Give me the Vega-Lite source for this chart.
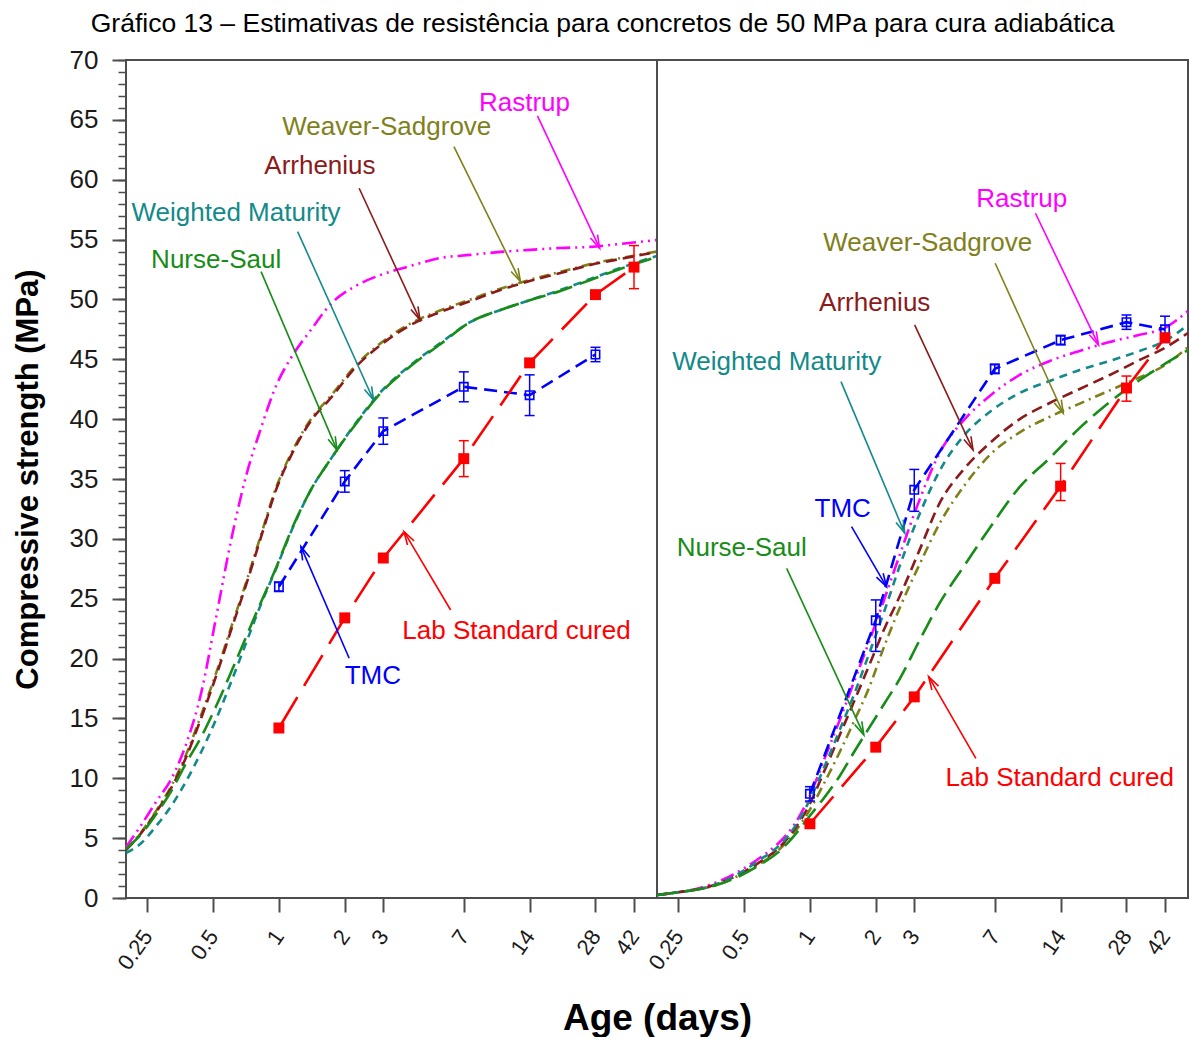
{
  "$schema": "https://vega.github.io/schema/vega-lite/v6.json",
  "background": "white",
  "padding": {"left": 11, "top": 10, "right": 0, "bottom": 0},
  "title": {
    "text": "Gráfico 13 – Estimativas de resistência para concretos de 50 MPa para cura adiabática",
    "fontSize": 26.5, "fontWeight": "normal", "color": "#000000", "anchor": "middle", "offset": 9
  },
  "spacing": 0,
  "bounds": "flush",
  "datasets": {
    "curves": [
      {"p":"L","s":"Rastrup","d":0.2,"v":4.26},{"p":"L","s":"Rastrup","d":0.2349,"v":6.1},{"p":"L","s":"Rastrup","d":0.275,"v":8.05},{"p":"L","s":"Rastrup","d":0.322,"v":9.94},{"p":"L","s":"Rastrup","d":0.3769,"v":12.87},{"p":"L","s":"Rastrup","d":0.4413,"v":17.13},{"p":"L","s":"Rastrup","d":0.5167,"v":23.48},{"p":"L","s":"Rastrup","d":0.6049,"v":29.91},{"p":"L","s":"Rastrup","d":0.7078,"v":35.25},{"p":"L","s":"Rastrup","d":0.8288,"v":39.27},{"p":"L","s":"Rastrup","d":0.97,"v":42.77},{"p":"L","s":"Rastrup","d":1.135,"v":45.11},{"p":"L","s":"Rastrup","d":1.4,"v":47.45},{"p":"L","s":"Rastrup","d":1.728,"v":49.62},{"p":"L","s":"Rastrup","d":2.247,"v":51.13},{"p":"L","s":"Rastrup","d":2.922,"v":52.05},{"p":"L","s":"Rastrup","d":4.003,"v":52.8},{"p":"L","s":"Rastrup","d":5.486,"v":53.47},{"p":"L","s":"Rastrup","d":7.519,"v":53.72},{"p":"L","s":"Rastrup","d":10.3,"v":53.97},{"p":"L","s":"Rastrup","d":14.12,"v":54.14},{"p":"L","s":"Rastrup","d":19.35,"v":54.3},{"p":"L","s":"Rastrup","d":26.52,"v":54.39},{"p":"L","s":"Rastrup","d":36.33,"v":54.64},{"p":"L","s":"Rastrup","d":53.5,"v":54.97},
      {"p":"L","s":"Weaver-Sadgrove","d":0.2,"v":4.05},{"p":"L","s":"Weaver-Sadgrove","d":0.2349,"v":5.5},{"p":"L","s":"Weaver-Sadgrove","d":0.275,"v":7.3},{"p":"L","s":"Weaver-Sadgrove","d":0.322,"v":9.35},{"p":"L","s":"Weaver-Sadgrove","d":0.3769,"v":12.0},{"p":"L","s":"Weaver-Sadgrove","d":0.4413,"v":15.3},{"p":"L","s":"Weaver-Sadgrove","d":0.5167,"v":18.8},{"p":"L","s":"Weaver-Sadgrove","d":0.6049,"v":22.6},{"p":"L","s":"Weaver-Sadgrove","d":0.7078,"v":26.35},{"p":"L","s":"Weaver-Sadgrove","d":0.8288,"v":30.35},{"p":"L","s":"Weaver-Sadgrove","d":0.97,"v":34.25},{"p":"L","s":"Weaver-Sadgrove","d":1.135,"v":37.1},{"p":"L","s":"Weaver-Sadgrove","d":1.4,"v":40.0},{"p":"L","s":"Weaver-Sadgrove","d":1.728,"v":41.95},{"p":"L","s":"Weaver-Sadgrove","d":2.247,"v":44.5},{"p":"L","s":"Weaver-Sadgrove","d":2.922,"v":46.35},{"p":"L","s":"Weaver-Sadgrove","d":4.003,"v":48.0},{"p":"L","s":"Weaver-Sadgrove","d":5.486,"v":49.1},{"p":"L","s":"Weaver-Sadgrove","d":7.519,"v":50.0},{"p":"L","s":"Weaver-Sadgrove","d":10.3,"v":50.9},{"p":"L","s":"Weaver-Sadgrove","d":14.12,"v":51.65},{"p":"L","s":"Weaver-Sadgrove","d":19.35,"v":52.3},{"p":"L","s":"Weaver-Sadgrove","d":26.52,"v":52.95},{"p":"L","s":"Weaver-Sadgrove","d":36.33,"v":53.45},{"p":"L","s":"Weaver-Sadgrove","d":53.5,"v":54.0},
      {"p":"L","s":"Arrhenius","d":0.2,"v":4.01},{"p":"L","s":"Arrhenius","d":0.2349,"v":5.43},{"p":"L","s":"Arrhenius","d":0.275,"v":7.18},{"p":"L","s":"Arrhenius","d":0.322,"v":9.19},{"p":"L","s":"Arrhenius","d":0.3769,"v":11.78},{"p":"L","s":"Arrhenius","d":0.4413,"v":15.04},{"p":"L","s":"Arrhenius","d":0.5167,"v":18.55},{"p":"L","s":"Arrhenius","d":0.6049,"v":22.39},{"p":"L","s":"Arrhenius","d":0.7078,"v":26.15},{"p":"L","s":"Arrhenius","d":0.8288,"v":30.16},{"p":"L","s":"Arrhenius","d":0.97,"v":34.09},{"p":"L","s":"Arrhenius","d":1.135,"v":36.93},{"p":"L","s":"Arrhenius","d":1.4,"v":39.85},{"p":"L","s":"Arrhenius","d":1.728,"v":41.77},{"p":"L","s":"Arrhenius","d":2.247,"v":44.36},{"p":"L","s":"Arrhenius","d":2.922,"v":46.2},{"p":"L","s":"Arrhenius","d":4.003,"v":47.87},{"p":"L","s":"Arrhenius","d":5.486,"v":48.96},{"p":"L","s":"Arrhenius","d":7.519,"v":49.87},{"p":"L","s":"Arrhenius","d":10.3,"v":50.79},{"p":"L","s":"Arrhenius","d":14.12,"v":51.55},{"p":"L","s":"Arrhenius","d":19.35,"v":52.21},{"p":"L","s":"Arrhenius","d":26.52,"v":52.88},{"p":"L","s":"Arrhenius","d":36.33,"v":53.38},{"p":"L","s":"Arrhenius","d":53.5,"v":53.97},
      {"p":"L","s":"Weighted Maturity","d":0.2,"v":3.76},{"p":"L","s":"Weighted Maturity","d":0.2349,"v":4.59},{"p":"L","s":"Weighted Maturity","d":0.275,"v":6.02},{"p":"L","s":"Weighted Maturity","d":0.322,"v":7.69},{"p":"L","s":"Weighted Maturity","d":0.3769,"v":9.77},{"p":"L","s":"Weighted Maturity","d":0.4413,"v":12.2},{"p":"L","s":"Weighted Maturity","d":0.5167,"v":14.95},{"p":"L","s":"Weighted Maturity","d":0.6049,"v":18.05},{"p":"L","s":"Weighted Maturity","d":0.7078,"v":21.3},{"p":"L","s":"Weighted Maturity","d":0.8288,"v":24.56},{"p":"L","s":"Weighted Maturity","d":0.97,"v":27.49},{"p":"L","s":"Weighted Maturity","d":1.135,"v":30.58},{"p":"L","s":"Weighted Maturity","d":1.4,"v":34.09},{"p":"L","s":"Weighted Maturity","d":1.728,"v":36.68},{"p":"L","s":"Weighted Maturity","d":2.247,"v":39.68},{"p":"L","s":"Weighted Maturity","d":2.922,"v":42.27},{"p":"L","s":"Weighted Maturity","d":4.003,"v":44.53},{"p":"L","s":"Weighted Maturity","d":5.486,"v":46.37},{"p":"L","s":"Weighted Maturity","d":7.519,"v":48.12},{"p":"L","s":"Weighted Maturity","d":10.3,"v":49.12},{"p":"L","s":"Weighted Maturity","d":14.12,"v":49.96},{"p":"L","s":"Weighted Maturity","d":19.35,"v":50.79},{"p":"L","s":"Weighted Maturity","d":26.52,"v":51.71},{"p":"L","s":"Weighted Maturity","d":36.33,"v":52.63},{"p":"L","s":"Weighted Maturity","d":53.5,"v":53.63},
      {"p":"L","s":"Nurse-Saul","d":0.2,"v":4.09},{"p":"L","s":"Nurse-Saul","d":0.2349,"v":5.35},{"p":"L","s":"Nurse-Saul","d":0.275,"v":7.02},{"p":"L","s":"Nurse-Saul","d":0.322,"v":8.94},{"p":"L","s":"Nurse-Saul","d":0.3769,"v":11.28},{"p":"L","s":"Nurse-Saul","d":0.4413,"v":13.45},{"p":"L","s":"Nurse-Saul","d":0.5167,"v":16.04},{"p":"L","s":"Nurse-Saul","d":0.6049,"v":18.88},{"p":"L","s":"Nurse-Saul","d":0.7078,"v":21.8},{"p":"L","s":"Nurse-Saul","d":0.8288,"v":24.73},{"p":"L","s":"Nurse-Saul","d":0.97,"v":27.57},{"p":"L","s":"Nurse-Saul","d":1.135,"v":30.66},{"p":"L","s":"Nurse-Saul","d":1.4,"v":34.09},{"p":"L","s":"Nurse-Saul","d":1.728,"v":36.68},{"p":"L","s":"Nurse-Saul","d":2.247,"v":39.6},{"p":"L","s":"Nurse-Saul","d":2.922,"v":42.19},{"p":"L","s":"Nurse-Saul","d":4.003,"v":44.44},{"p":"L","s":"Nurse-Saul","d":5.486,"v":46.28},{"p":"L","s":"Nurse-Saul","d":7.519,"v":48.12},{"p":"L","s":"Nurse-Saul","d":10.3,"v":49.12},{"p":"L","s":"Nurse-Saul","d":14.12,"v":49.96},{"p":"L","s":"Nurse-Saul","d":19.35,"v":50.71},{"p":"L","s":"Nurse-Saul","d":26.52,"v":51.63},{"p":"L","s":"Nurse-Saul","d":36.33,"v":52.55},{"p":"L","s":"Nurse-Saul","d":53.5,"v":53.55},
      {"p":"R","s":"Rastrup","d":0.2,"v":0.25},{"p":"R","s":"Rastrup","d":0.2542,"v":0.5},{"p":"R","s":"Rastrup","d":0.3136,"v":0.84},{"p":"R","s":"Rastrup","d":0.3871,"v":1.42},{"p":"R","s":"Rastrup","d":0.4776,"v":2.26},{"p":"R","s":"Rastrup","d":0.5892,"v":3.34},{"p":"R","s":"Rastrup","d":0.7277,"v":4.68},{"p":"R","s":"Rastrup","d":0.8521,"v":6.18},{"p":"R","s":"Rastrup","d":0.9979,"v":8.52},{"p":"R","s":"Rastrup","d":1.169,"v":11.7},{"p":"R","s":"Rastrup","d":1.369,"v":14.87},{"p":"R","s":"Rastrup","d":1.602,"v":18.21},{"p":"R","s":"Rastrup","d":1.877,"v":21.55},{"p":"R","s":"Rastrup","d":2.198,"v":25.06},{"p":"R","s":"Rastrup","d":2.574,"v":28.66},{"p":"R","s":"Rastrup","d":3.177,"v":33.3},{"p":"R","s":"Rastrup","d":3.922,"v":37.2},{"p":"R","s":"Rastrup","d":5.103,"v":40.0},{"p":"R","s":"Rastrup","d":6.639,"v":41.94},{"p":"R","s":"Rastrup","d":9.104,"v":43.69},{"p":"R","s":"Rastrup","d":12.49,"v":44.86},{"p":"R","s":"Rastrup","d":17.12,"v":45.7},{"p":"R","s":"Rastrup","d":23.48,"v":46.45},{"p":"R","s":"Rastrup","d":32.2,"v":47.04},{"p":"R","s":"Rastrup","d":41.9,"v":47.62},{"p":"R","s":"Rastrup","d":53.5,"v":49.04},
      {"p":"R","s":"Weaver-Sadgrove","d":0.2,"v":0.25},{"p":"R","s":"Weaver-Sadgrove","d":0.2542,"v":0.5},{"p":"R","s":"Weaver-Sadgrove","d":0.3136,"v":0.75},{"p":"R","s":"Weaver-Sadgrove","d":0.3871,"v":1.17},{"p":"R","s":"Weaver-Sadgrove","d":0.4776,"v":1.92},{"p":"R","s":"Weaver-Sadgrove","d":0.5892,"v":2.84},{"p":"R","s":"Weaver-Sadgrove","d":0.7277,"v":4.09},{"p":"R","s":"Weaver-Sadgrove","d":0.8521,"v":5.51},{"p":"R","s":"Weaver-Sadgrove","d":0.9979,"v":7.35},{"p":"R","s":"Weaver-Sadgrove","d":1.169,"v":9.69},{"p":"R","s":"Weaver-Sadgrove","d":1.369,"v":12.2},{"p":"R","s":"Weaver-Sadgrove","d":1.602,"v":14.87},{"p":"R","s":"Weaver-Sadgrove","d":1.877,"v":17.71},{"p":"R","s":"Weaver-Sadgrove","d":2.198,"v":21.14},{"p":"R","s":"Weaver-Sadgrove","d":2.574,"v":24.23},{"p":"R","s":"Weaver-Sadgrove","d":3.177,"v":27.9},{"p":"R","s":"Weaver-Sadgrove","d":3.922,"v":31.3},{"p":"R","s":"Weaver-Sadgrove","d":5.103,"v":34.5},{"p":"R","s":"Weaver-Sadgrove","d":6.639,"v":37.0},{"p":"R","s":"Weaver-Sadgrove","d":9.104,"v":38.9},{"p":"R","s":"Weaver-Sadgrove","d":12.49,"v":40.2},{"p":"R","s":"Weaver-Sadgrove","d":17.12,"v":41.3},{"p":"R","s":"Weaver-Sadgrove","d":23.48,"v":42.4},{"p":"R","s":"Weaver-Sadgrove","d":32.2,"v":43.5},{"p":"R","s":"Weaver-Sadgrove","d":41.9,"v":44.5},{"p":"R","s":"Weaver-Sadgrove","d":53.5,"v":46.03},
      {"p":"R","s":"Arrhenius","d":0.2,"v":0.25},{"p":"R","s":"Arrhenius","d":0.2542,"v":0.5},{"p":"R","s":"Arrhenius","d":0.3136,"v":0.75},{"p":"R","s":"Arrhenius","d":0.3871,"v":1.25},{"p":"R","s":"Arrhenius","d":0.4776,"v":2.0},{"p":"R","s":"Arrhenius","d":0.5892,"v":3.0},{"p":"R","s":"Arrhenius","d":0.7277,"v":4.26},{"p":"R","s":"Arrhenius","d":0.8521,"v":5.76},{"p":"R","s":"Arrhenius","d":0.9979,"v":7.85},{"p":"R","s":"Arrhenius","d":1.169,"v":10.69},{"p":"R","s":"Arrhenius","d":1.369,"v":13.62},{"p":"R","s":"Arrhenius","d":1.602,"v":16.54},{"p":"R","s":"Arrhenius","d":1.877,"v":19.55},{"p":"R","s":"Arrhenius","d":2.198,"v":22.56},{"p":"R","s":"Arrhenius","d":2.574,"v":25.2},{"p":"R","s":"Arrhenius","d":3.177,"v":29.1},{"p":"R","s":"Arrhenius","d":3.922,"v":33.0},{"p":"R","s":"Arrhenius","d":5.103,"v":35.9},{"p":"R","s":"Arrhenius","d":6.639,"v":38.0},{"p":"R","s":"Arrhenius","d":9.104,"v":40.0},{"p":"R","s":"Arrhenius","d":12.49,"v":41.35},{"p":"R","s":"Arrhenius","d":17.12,"v":42.52},{"p":"R","s":"Arrhenius","d":23.48,"v":43.69},{"p":"R","s":"Arrhenius","d":32.2,"v":44.95},{"p":"R","s":"Arrhenius","d":41.9,"v":45.95},{"p":"R","s":"Arrhenius","d":53.5,"v":47.2},
      {"p":"R","s":"Weighted Maturity","d":0.2,"v":0.25},{"p":"R","s":"Weighted Maturity","d":0.2542,"v":0.5},{"p":"R","s":"Weighted Maturity","d":0.3136,"v":0.75},{"p":"R","s":"Weighted Maturity","d":0.3871,"v":1.25},{"p":"R","s":"Weighted Maturity","d":0.4776,"v":2.09},{"p":"R","s":"Weighted Maturity","d":0.5892,"v":3.17},{"p":"R","s":"Weighted Maturity","d":0.7277,"v":4.43},{"p":"R","s":"Weighted Maturity","d":0.8521,"v":5.93},{"p":"R","s":"Weighted Maturity","d":0.9979,"v":8.19},{"p":"R","s":"Weighted Maturity","d":1.169,"v":11.03},{"p":"R","s":"Weighted Maturity","d":1.369,"v":14.04},{"p":"R","s":"Weighted Maturity","d":1.602,"v":17.13},{"p":"R","s":"Weighted Maturity","d":1.877,"v":20.55},{"p":"R","s":"Weighted Maturity","d":2.198,"v":24.06},{"p":"R","s":"Weighted Maturity","d":2.574,"v":27.74},{"p":"R","s":"Weighted Maturity","d":3.177,"v":32.1},{"p":"R","s":"Weighted Maturity","d":3.922,"v":35.7},{"p":"R","s":"Weighted Maturity","d":5.103,"v":38.7},{"p":"R","s":"Weighted Maturity","d":6.639,"v":40.6},{"p":"R","s":"Weighted Maturity","d":9.104,"v":42.19},{"p":"R","s":"Weighted Maturity","d":12.49,"v":43.19},{"p":"R","s":"Weighted Maturity","d":17.12,"v":44.11},{"p":"R","s":"Weighted Maturity","d":23.48,"v":44.86},{"p":"R","s":"Weighted Maturity","d":32.2,"v":45.7},{"p":"R","s":"Weighted Maturity","d":41.9,"v":46.53},{"p":"R","s":"Weighted Maturity","d":53.5,"v":47.87},
      {"p":"R","s":"Nurse-Saul","d":0.2,"v":0.25},{"p":"R","s":"Nurse-Saul","d":0.2542,"v":0.5},{"p":"R","s":"Nurse-Saul","d":0.3136,"v":0.75},{"p":"R","s":"Nurse-Saul","d":0.3871,"v":1.17},{"p":"R","s":"Nurse-Saul","d":0.4776,"v":1.84},{"p":"R","s":"Nurse-Saul","d":0.5892,"v":2.76},{"p":"R","s":"Nurse-Saul","d":0.7277,"v":3.93},{"p":"R","s":"Nurse-Saul","d":0.8521,"v":5.26},{"p":"R","s":"Nurse-Saul","d":0.9979,"v":6.85},{"p":"R","s":"Nurse-Saul","d":1.169,"v":8.44},{"p":"R","s":"Nurse-Saul","d":1.369,"v":10.19},{"p":"R","s":"Nurse-Saul","d":1.602,"v":12.28},{"p":"R","s":"Nurse-Saul","d":1.877,"v":14.29},{"p":"R","s":"Nurse-Saul","d":2.198,"v":16.29},{"p":"R","s":"Nurse-Saul","d":2.574,"v":18.3},{"p":"R","s":"Nurse-Saul","d":3.177,"v":21.55},{"p":"R","s":"Nurse-Saul","d":3.922,"v":24.65},{"p":"R","s":"Nurse-Saul","d":5.103,"v":27.82},{"p":"R","s":"Nurse-Saul","d":6.639,"v":30.91},{"p":"R","s":"Nurse-Saul","d":9.104,"v":34.34},{"p":"R","s":"Nurse-Saul","d":12.49,"v":36.76},{"p":"R","s":"Nurse-Saul","d":17.12,"v":39.27},{"p":"R","s":"Nurse-Saul","d":23.48,"v":41.44},{"p":"R","s":"Nurse-Saul","d":32.2,"v":43.27},{"p":"R","s":"Nurse-Saul","d":41.9,"v":44.61},{"p":"R","s":"Nurse-Saul","d":53.5,"v":45.78}
    ],
    "tests": [
      {"p":"L","s":"TMC","d":1,"v":26.0,"lo":25.6,"hi":26.4},
      {"p":"L","s":"TMC","d":2,"v":34.8,"lo":33.9,"hi":35.7},
      {"p":"L","s":"TMC","d":3,"v":39.0,"lo":37.9,"hi":40.1},
      {"p":"L","s":"TMC","d":7,"v":42.7,"lo":41.45,"hi":43.95},
      {"p":"L","s":"TMC","d":14,"v":42.0,"lo":40.3,"hi":43.7},
      {"p":"L","s":"TMC","d":28,"v":45.4,"lo":44.8,"hi":46.0},
      {"p":"L","s":"Lab Standard cured","d":1,"v":14.2},
      {"p":"L","s":"Lab Standard cured","d":2,"v":23.4},
      {"p":"L","s":"Lab Standard cured","d":3,"v":28.4},
      {"p":"L","s":"Lab Standard cured","d":7,"v":36.7,"lo":35.2,"hi":38.2},
      {"p":"L","s":"Lab Standard cured","d":14,"v":44.7},
      {"p":"L","s":"Lab Standard cured","d":28,"v":50.4},
      {"p":"L","s":"Lab Standard cured","d":42,"v":52.7,"lo":50.9,"hi":54.5},
      {"p":"R","s":"TMC","d":1,"v":8.7,"lo":8.1,"hi":9.3},
      {"p":"R","s":"TMC","d":2,"v":23.2,"lo":20.6,"hi":24.9},
      {"p":"R","s":"TMC","d":3,"v":34.1,"lo":32.3,"hi":35.8},
      {"p":"R","s":"TMC","d":7,"v":44.2,"lo":43.8,"hi":44.6},
      {"p":"R","s":"TMC","d":14,"v":46.6,"lo":46.2,"hi":47.0},
      {"p":"R","s":"TMC","d":28,"v":48.1,"lo":47.5,"hi":48.7},
      {"p":"R","s":"TMC","d":42,"v":47.5,"lo":46.4,"hi":48.6},
      {"p":"R","s":"Lab Standard cured","d":1,"v":6.2},
      {"p":"R","s":"Lab Standard cured","d":2,"v":12.6},
      {"p":"R","s":"Lab Standard cured","d":3,"v":16.8},
      {"p":"R","s":"Lab Standard cured","d":7,"v":26.7},
      {"p":"R","s":"Lab Standard cured","d":14,"v":34.4,"lo":33.2,"hi":36.3},
      {"p":"R","s":"Lab Standard cured","d":28,"v":42.6,"lo":41.5,"hi":43.6},
      {"p":"R","s":"Lab Standard cured","d":42,"v":46.8}
    ],
    "notes": [
      {"p":"L","s":"Rastrup","tx":13.26,"ty":66.42,"x0":15.2,"y0":65.33,"x1":29.24,"y1":54.28,"h":154.8},
      {"p":"L","s":"Weaver-Sadgrove","tx":3.112,"ty":64.41,"x0":6.31,"y0":62.76,"x1":12.71,"y1":51.49,"h":153.7},
      {"p":"L","s":"Arrhenius","tx":1.54,"ty":61.11,"x0":2.327,"y0":59.29,"x1":4.415,"y1":48.29,"h":155.1},
      {"p":"L","s":"Weighted Maturity","tx":0.637,"ty":57.23,"x0":1.218,"y0":55.67,"x1":2.706,"y1":41.6,"h":155.7},
      {"p":"L","s":"Nurse-Saul","tx":0.5166,"ty":53.3,"x0":0.829,"y0":52.32,"x1":1.841,"y1":37.43,"h":156.9},
      {"p":"L","s":"TMC","tx":2.687,"ty":18.55,"x0":2.095,"y0":20.03,"x1":1.261,"y1":29.35,"h":-23.4},
      {"p":"L","s":"Lab Standard cured","tx":12.19,"ty":22.31,"x0":6.096,"y0":24.06,"x1":3.733,"y1":30.6,"h":-30.8},
      {"p":"R","s":"Rastrup","tx":9.3,"ty":58.4,"x0":10.74,"y0":57.2,"x1":20.85,"y1":46.2,"h":154.4},
      {"p":"R","s":"Weaver-Sadgrove","tx":3.456,"ty":54.72,"x0":7.03,"y0":53.02,"x1":14.39,"y1":40.49,"h":155.6},
      {"p":"R","s":"Arrhenius","tx":1.978,"ty":49.71,"x0":3.011,"y0":47.87,"x1":5.568,"y1":37.43,"h":155.0},
      {"p":"R","s":"Weighted Maturity","tx":0.705,"ty":44.78,"x0":1.387,"y0":43.13,"x1":2.713,"y1":30.47,"h":157.2},
      {"p":"R","s":"TMC","tx":1.412,"ty":32.5,"x0":1.55,"y0":31.02,"x1":2.238,"y1":26.01,"h":149.8},
      {"p":"R","s":"Nurse-Saul","tx":0.488,"ty":29.24,"x0":0.783,"y0":27.54,"x1":1.764,"y1":13.62,"h":155.2},
      {"p":"R","s":"Lab Standard cured","tx":13.87,"ty":10.03,"x0":5.735,"y0":11.67,"x1":3.489,"y1":18.49,"h":-30.0}
    ]
  },
  "hconcat": [
    {
      "width": 531,
      "height": 838,
      "resolve": {"axis": {"y": "independent"}},
      "layer": [
        {
          "data": {"name": "curves"},
          "transform": [{"filter": "datum.p === 'L'"}],
          "mark": {"type": "line", "interpolate": "monotone", "strokeWidth": 2.6},
          "encoding": {
            "x": {"field": "d", "type": "quantitative",
                  "scale": {"type": "log", "domain": [0.2, 53.5], "nice": false},
                  "axis": {"values": [0.25, 0.5, 1, 2, 3, 7, 14, 28, 42], "labelExpr": "datum.value + ''",
                           "labelAngle": -55, "labelAlign": "right", "labelBaseline": "middle", "labelFontSize": 22,
                           "labelPadding": 20, "labelOverlap": false, "labelFlush": false, "labelBound": false,
                           "tickSize": 14, "tickWidth": 2,
                           "title": "Age (days)", "titleFontSize": 37, "titleFontWeight": "bold",
                           "titleX": 531, "titleY": 120, "titleAlign": "center", "titleBaseline": "middle"}},
            "y": {"field": "v", "type": "quantitative",
                  "scale": {"domain": [0, 70], "nice": false},
                  "axis": {"orient": "left", "values": [0, 5, 10, 15, 20, 25, 30, 35, 40, 45, 50, 55, 60, 65, 70],
                           "tickSize": 14, "tickWidth": 2,
                           "labelFontSize": 26, "labelPadding": 14, "labelOverlap": false, "labelFlush": false,
                           "title": "Compressive strength (MPa)", "titleFontSize": 31, "titleFontWeight": "bold",
                           "titleX": -98, "titleY": 419, "titleAlign": "center", "titleBaseline": "middle", "titleAngle": -90}},
            "color": {"field": "s", "type": "nominal", "legend": null,
                      "scale": {"domain": ["Rastrup", "Weaver-Sadgrove", "Arrhenius", "Weighted Maturity", "Nurse-Saul", "TMC", "Lab Standard cured"],
                                "range": ["#ff00ff", "#80801a", "#8b1a1a", "#128a8a", "#178c17", "#0000ff", "#ff0000"]}},
            "strokeDash": {"field": "s", "type": "nominal", "legend": null,
                           "scale": {"domain": ["Rastrup", "Weaver-Sadgrove", "Arrhenius", "Weighted Maturity", "Nurse-Saul", "TMC", "Lab Standard cured"],
                                     "range": [[14, 5, 2, 5, 2, 5], [10, 5, 2, 5], [11, 6], [8, 6], [20, 8], [13, 7], [36, 13]]}}
          }
        },
        {
          "data": {"name": "curves"},
          "transform": [{"filter": "datum.p === 'L'"}],
          "mark": {"type": "point", "opacity": 0},
          "encoding": {
            "x": {"field": "d", "type": "quantitative"},
            "y": {"field": "v", "type": "quantitative",
                  "axis": {"orient": "left", "values": [0,1,2,3,4,5,6,7,8,9,10,11,12,13,14,15,16,17,18,19,20,21,22,23,24,25,26,27,28,29,30,31,32,33,34,35,36,37,38,39,40,41,42,43,44,45,46,47,48,49,50,51,52,53,54,55,56,57,58,59,60,61,62,63,64,65,66,67,68,69,70],
                           "tickSize": 8, "tickWidth": 1.5, "labels": false, "title": null}}
          }
        },
        {
          "data": {"name": "tests"},
          "transform": [{"filter": "datum.p === 'L'"}],
          "mark": {"type": "line", "strokeWidth": 2.6},
          "encoding": {
            "x": {"field": "d", "type": "quantitative"},
            "y": {"field": "v", "type": "quantitative", "axis": null},
            "color": {"field": "s", "type": "nominal", "legend": null},
            "strokeDash": {"field": "s", "type": "nominal", "legend": null}
          }
        },
        {
          "data": {"name": "tests"},
          "transform": [{"filter": "datum.p === 'L' && isValid(datum.lo)"}],
          "mark": {"type": "rule", "strokeWidth": 1.5},
          "encoding": {
            "x": {"field": "d", "type": "quantitative"},
            "y": {"field": "lo", "type": "quantitative", "axis": null},
            "y2": {"field": "hi"},
            "color": {"field": "s", "type": "nominal", "legend": null}
          }
        },
        {
          "data": {"name": "tests"},
          "transform": [{"filter": "datum.p === 'L' && isValid(datum.lo)"}, {"fold": ["lo", "hi"], "as": ["end", "yv"]}],
          "mark": {"type": "point", "shape": "stroke", "size": 100, "strokeWidth": 1.5, "filled": false, "opacity": 1},
          "encoding": {
            "x": {"field": "d", "type": "quantitative"},
            "y": {"field": "yv", "type": "quantitative", "axis": null},
            "color": {"field": "s", "type": "nominal", "legend": null}
          }
        },
        {
          "data": {"name": "tests"},
          "transform": [{"filter": "datum.p === 'L' && datum.s === 'TMC'"}],
          "mark": {"type": "point", "shape": "square", "size": 70, "strokeWidth": 1.6, "filled": false, "opacity": 1},
          "encoding": {
            "x": {"field": "d", "type": "quantitative"},
            "y": {"field": "v", "type": "quantitative", "axis": null},
            "color": {"field": "s", "type": "nominal", "legend": null}
          }
        },
        {
          "data": {"name": "tests"},
          "transform": [{"filter": "datum.p === 'L' && datum.s === 'Lab Standard cured'"}],
          "mark": {"type": "point", "shape": "square", "size": 120, "filled": true, "opacity": 1},
          "encoding": {
            "x": {"field": "d", "type": "quantitative"},
            "y": {"field": "v", "type": "quantitative", "axis": null},
            "color": {"field": "s", "type": "nominal", "legend": null}
          }
        },
        {
          "data": {"name": "notes"},
          "transform": [{"filter": "datum.p === 'L'"}],
          "mark": {"type": "rule", "strokeWidth": 1.6},
          "encoding": {
            "x": {"field": "x0", "type": "quantitative"},
            "y": {"field": "y0", "type": "quantitative", "axis": null},
            "x2": {"field": "x1"},
            "y2": {"field": "y1"},
            "color": {"field": "s", "type": "nominal", "legend": null}
          }
        },
        {
          "data": {"name": "notes"},
          "transform": [{"filter": "datum.p === 'L'"}],
          "mark": {"type": "point", "shape": "M-0.65,2.2L0,0L0.65,2.2", "size": 144, "strokeWidth": 1.6, "filled": false, "opacity": 1},
          "encoding": {
            "x": {"field": "x1", "type": "quantitative"},
            "y": {"field": "y1", "type": "quantitative", "axis": null},
            "angle": {"field": "h", "type": "quantitative", "scale": null},
            "color": {"field": "s", "type": "nominal", "legend": null}
          }
        },
        {
          "data": {"name": "notes"},
          "transform": [{"filter": "datum.p === 'L'"}],
          "mark": {"type": "text", "fontSize": 26, "align": "center", "baseline": "middle"},
          "encoding": {
            "x": {"field": "tx", "type": "quantitative"},
            "y": {"field": "ty", "type": "quantitative", "axis": null},
            "text": {"field": "s"},
            "color": {"field": "s", "type": "nominal", "legend": null}
          }
        }
      ]
    },
    {
      "width": 531,
      "height": 838,
      "layer": [
        {
          "data": {"name": "curves"},
          "transform": [{"filter": "datum.p === 'R'"}],
          "mark": {"type": "line", "interpolate": "monotone", "strokeWidth": 2.6},
          "encoding": {
            "x": {"field": "d", "type": "quantitative",
                  "scale": {"type": "log", "domain": [0.2, 53.5], "nice": false},
                  "axis": {"values": [0.25, 0.5, 1, 2, 3, 7, 14, 28, 42], "labelExpr": "datum.value + ''",
                           "labelAngle": -55, "labelAlign": "right", "labelBaseline": "middle", "labelFontSize": 22,
                           "labelPadding": 20, "labelOverlap": false, "labelFlush": false, "labelBound": false,
                           "tickSize": 14, "tickWidth": 2, "title": null}},
            "y": {"field": "v", "type": "quantitative", "scale": {"domain": [0, 70], "nice": false}, "axis": null},
            "color": {"field": "s", "type": "nominal", "legend": null,
                      "scale": {"domain": ["Rastrup", "Weaver-Sadgrove", "Arrhenius", "Weighted Maturity", "Nurse-Saul", "TMC", "Lab Standard cured"],
                                "range": ["#ff00ff", "#80801a", "#8b1a1a", "#128a8a", "#178c17", "#0000ff", "#ff0000"]}},
            "strokeDash": {"field": "s", "type": "nominal", "legend": null,
                           "scale": {"domain": ["Rastrup", "Weaver-Sadgrove", "Arrhenius", "Weighted Maturity", "Nurse-Saul", "TMC", "Lab Standard cured"],
                                     "range": [[14, 5, 2, 5, 2, 5], [10, 5, 2, 5], [11, 6], [8, 6], [20, 8], [13, 7], [36, 13]]}}
          }
        },
        {
          "data": {"name": "tests"},
          "transform": [{"filter": "datum.p === 'R'"}],
          "mark": {"type": "line", "strokeWidth": 2.6},
          "encoding": {
            "x": {"field": "d", "type": "quantitative", "axis": {"title": null}},
            "y": {"field": "v", "type": "quantitative", "axis": null},
            "color": {"field": "s", "type": "nominal", "legend": null},
            "strokeDash": {"field": "s", "type": "nominal", "legend": null}
          }
        },
        {
          "data": {"name": "tests"},
          "transform": [{"filter": "datum.p === 'R' && isValid(datum.lo)"}],
          "mark": {"type": "rule", "strokeWidth": 1.5},
          "encoding": {
            "x": {"field": "d", "type": "quantitative", "axis": {"title": null}},
            "y": {"field": "lo", "type": "quantitative", "axis": null},
            "y2": {"field": "hi"},
            "color": {"field": "s", "type": "nominal", "legend": null}
          }
        },
        {
          "data": {"name": "tests"},
          "transform": [{"filter": "datum.p === 'R' && isValid(datum.lo)"}, {"fold": ["lo", "hi"], "as": ["end", "yv"]}],
          "mark": {"type": "point", "shape": "stroke", "size": 100, "strokeWidth": 1.5, "filled": false, "opacity": 1},
          "encoding": {
            "x": {"field": "d", "type": "quantitative", "axis": {"title": null}},
            "y": {"field": "yv", "type": "quantitative", "axis": null},
            "color": {"field": "s", "type": "nominal", "legend": null}
          }
        },
        {
          "data": {"name": "tests"},
          "transform": [{"filter": "datum.p === 'R' && datum.s === 'TMC'"}],
          "mark": {"type": "point", "shape": "square", "size": 70, "strokeWidth": 1.6, "filled": false, "opacity": 1},
          "encoding": {
            "x": {"field": "d", "type": "quantitative", "axis": {"title": null}},
            "y": {"field": "v", "type": "quantitative", "axis": null},
            "color": {"field": "s", "type": "nominal", "legend": null}
          }
        },
        {
          "data": {"name": "tests"},
          "transform": [{"filter": "datum.p === 'R' && datum.s === 'Lab Standard cured'"}],
          "mark": {"type": "point", "shape": "square", "size": 120, "filled": true, "opacity": 1},
          "encoding": {
            "x": {"field": "d", "type": "quantitative", "axis": {"title": null}},
            "y": {"field": "v", "type": "quantitative", "axis": null},
            "color": {"field": "s", "type": "nominal", "legend": null}
          }
        },
        {
          "data": {"name": "notes"},
          "transform": [{"filter": "datum.p === 'R'"}],
          "mark": {"type": "rule", "strokeWidth": 1.6},
          "encoding": {
            "x": {"field": "x0", "type": "quantitative", "axis": {"title": null}},
            "y": {"field": "y0", "type": "quantitative", "axis": null},
            "x2": {"field": "x1"},
            "y2": {"field": "y1"},
            "color": {"field": "s", "type": "nominal", "legend": null}
          }
        },
        {
          "data": {"name": "notes"},
          "transform": [{"filter": "datum.p === 'R'"}],
          "mark": {"type": "point", "shape": "M-0.65,2.2L0,0L0.65,2.2", "size": 144, "strokeWidth": 1.6, "filled": false, "opacity": 1},
          "encoding": {
            "x": {"field": "x1", "type": "quantitative", "axis": {"title": null}},
            "y": {"field": "y1", "type": "quantitative", "axis": null},
            "angle": {"field": "h", "type": "quantitative", "scale": null},
            "color": {"field": "s", "type": "nominal", "legend": null}
          }
        },
        {
          "data": {"name": "notes"},
          "transform": [{"filter": "datum.p === 'R'"}],
          "mark": {"type": "text", "fontSize": 26, "align": "center", "baseline": "middle"},
          "encoding": {
            "x": {"field": "tx", "type": "quantitative", "axis": {"title": null}},
            "y": {"field": "ty", "type": "quantitative", "axis": null},
            "text": {"field": "s"},
            "color": {"field": "s", "type": "nominal", "legend": null}
          }
        }
      ]
    }
  ],
  "config": {
    "font": "Liberation Sans",
    "view": {"stroke": "#4d4d4d", "strokeWidth": 2},
    "axis": {"labelFont": "Liberation Sans", "titleFont": "Liberation Sans", "labelColor": "#1a1a1a", "titleColor": "#000000",
             "domain": false, "grid": false, "tickColor": "#4d4d4d"},
    "title": {"font": "Liberation Sans"}
  }
}
